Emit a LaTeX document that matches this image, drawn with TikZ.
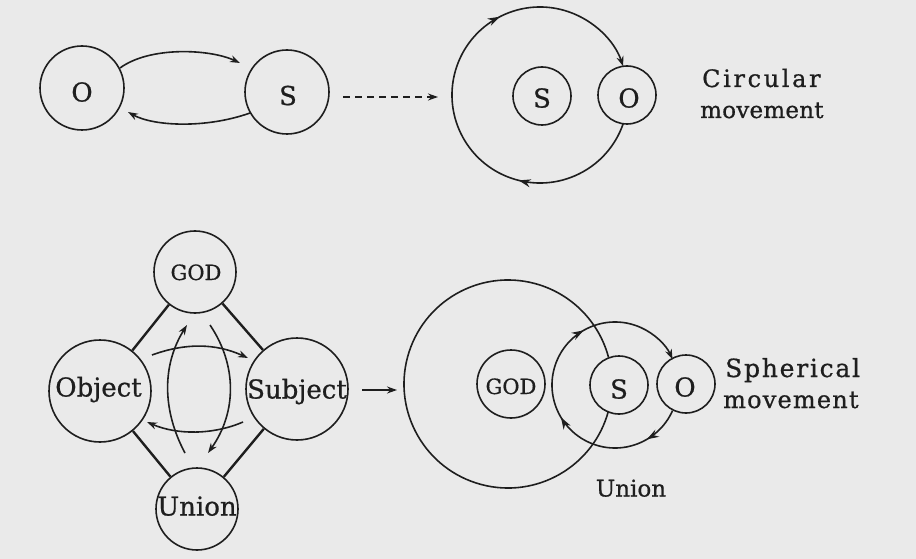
\documentclass[tikz,border=0pt]{standalone}
\usepackage{fontspec}
\setmainfont{DejaVu Serif}[FakeBold=0.7]
\usetikzlibrary{arrows.meta,decorations.markings,calc}
\definecolor{ink}{RGB}{30,30,30}
\definecolor{paper}{RGB}{234,234,234}
\begin{document}
\begin{tikzpicture}[x=1pt,y=-1pt,
  orb/.style={circle,draw=ink,line width=1.6pt,inner sep=0pt,minimum size=#1},
  txt/.style={text=ink,inner sep=0pt,anchor=base,font=\fontsize{#1}{#1}\selectfont},
  side/.style 2 args={text=ink,inner sep=0pt,anchor=base west,font=\fontsize{#1}{#1}\selectfont\addfontfeatures{LetterSpace=#2}},
  tip/.style={-{Stealth[length=10pt,width=7pt]}},
  conn/.style={draw=ink,line width=1.6pt},
  edgeline/.style={draw=ink,line width=2.4pt},
  dashline/.style={dash pattern=on 7pt off 5pt},
  twomarks/.style 2 args={postaction={decorate},decoration={markings,
     mark=at position #1 with {\arrow{Stealth[length=12pt,width=8pt]}},
     mark=at position #2 with {\arrow{Stealth[length=12pt,width=8pt]}}}},
  threemarks/.style n args={3}{postaction={decorate},decoration={markings,
     mark=at position #1 with {\arrow{Stealth[length=12pt,width=8pt]}},
     mark=at position #2 with {\arrow{Stealth[length=12pt,width=8pt]}},
     mark=at position #3 with {\arrow{Stealth[length=12pt,width=8pt]}}}},
]
\fill[paper] (0,0) rectangle (916,559);
\useasboundingbox (0,0) rectangle (916,559);

% ---------- top left ----------
\node[orb=84] (O1) at (82,88) {};
\node[orb=84] (S1) at (287,92) {};
\node[txt=26] (tO1) at (82,101.5) {O};
\node[txt=26] (tS1) at (288,105) {S};
\draw[conn,tip] ($(O1)+(38,-20)$) .. controls +(30,-22) and +(-30,-14) .. ($(S1)+(-47,-29)$);
\draw[conn,tip] ($(S1)+(-37,21)$) .. controls +(-45,16) and +(25,14) .. ($(O1)+(46,24)$);
\draw[conn,dashline,tip] ($(S1)+(56,5)$) -- ($(S1)+(151,5)$);

% ---------- top right ----------
\coordinate (C1c) at (540,95);
\node[orb=58] (S2) at (542,96) {};
\node[orb=58] (O2) at (627,95) {};
\node[txt=26] (tS2) at (542,107.5) {S};
\node[txt=26] (tO2) at (629,107.5) {O};
\draw[conn,tip,twomarks={0.264}{0.695}] ($(C1c)+(19:88)$) arc[start angle=19,end angle=341,radius=88];
\node[side={24}{11}] (circ) at (702,87) {Circular};
\node[side={23}{1}] (mov1) at (700,118) {movement};

% ---------- bottom left ----------
\node[orb=82] (GODa) at (195,272) {};
\node[orb=102] (Obj) at (100,391) {};
\node[orb=102] (Subj) at (297,389) {};
\node[orb=82] (Uni) at (197,509) {};
\node[txt=21] (tGODa) at (196,280) {GOD};
\node[txt=26] (tObj) at (98.5,396.5) {Object};
\node[txt=26] (tSubj) at (297,398.5) {Subject};
\node[txt=26] (tUni) at (197,515.5) {Union};
\draw[edgeline] (GODa) -- (Obj);
\draw[edgeline] (GODa) -- (Subj);
\draw[edgeline] (Obj) -- (Uni);
\draw[edgeline] (Subj) -- (Uni);
\draw[conn,tip] ($(Obj)+(52,-36)$) .. controls +(33,-12) and +(-33,-15) .. ($(Subj)+(-49,-31)$);
\draw[conn,tip] ($(Subj)+(-54,33)$) .. controls +(-30,13) and +(30,13) .. ($(Obj)+(47,31)$);
\draw[conn,tip] ($(Uni)+(-12,-56)$) .. controls +(-23,-43) and +(-25,40) .. ($(GODa)+(-8,53)$);
\draw[conn,tip] ($(GODa)+(15,53)$) .. controls +(27,40) and +(29,-41) .. ($(Uni)+(11,-56)$);
\draw[conn,tip] ($(Subj)+(65,1)$) -- ($(Subj)+(100,1)$);

% ---------- bottom right ----------
\coordinate (C2c) at (508,384);
\coordinate (Mc) at (615,385);
\node[orb=68] (GODb) at (511,384) {};
\node[orb=58] (S3) at (619,385) {};
\node[orb=58] (O3) at (686,384) {};
\node[txt=21] (tGODb) at (511,394) {GOD};
\node[txt=26] (tS3) at (619,398.5) {S};
\node[txt=26] (tO3) at (685,396.5) {O};
\draw[conn] ($(C2c)+(15:104)$) arc[start angle=15,end angle=345,radius=104];
\draw[conn,tip,threemarks={0.114}{0.401}{0.693}] ($(Mc)+(24.1:63)$) arc[start angle=24.1,end angle=335.9,radius=63];
\node[txt=23] (tUnion) at (631,496.5) {Union};
\node[side={25}{7}] (sph) at (725,377) {Spherical};
\node[side={24}{5}] (mov2) at (723,408) {movement};
\end{tikzpicture}
\end{document}
